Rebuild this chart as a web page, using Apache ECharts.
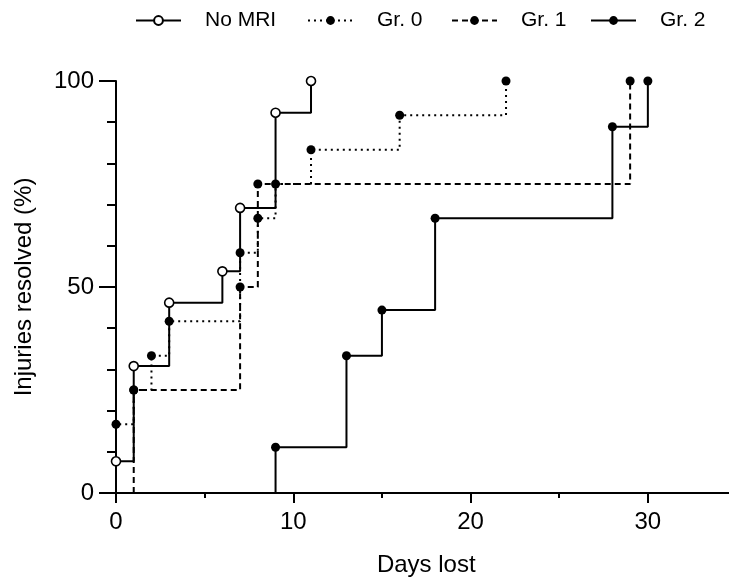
<!DOCTYPE html>
<html>
<head>
<meta charset="utf-8">
<script src="https://cdn.jsdelivr.net/npm/echarts@6/dist/echarts.min.js"></script>
<style>
  html, body { margin: 0; padding: 0; background: #fff; }
  #main { width: 729px; height: 582px; }
</style>
</head>
<body>
<div id="main"></div>
<script>
// cumulative % of injuries resolved, by days lost
var seriesNames = ["No MRI", "Gr. 0", "Gr. 1", "Gr. 2"];

var noMriDays = [0, 0, 1, 3, 6, 7, 9, 11];
var noMriPct  = [0, 7.7, 30.8, 46.2, 53.8, 69.2, 92.3, 100];

var gr0Days = [0, 0, 1, 2, 3, 7, 8, 9, 11, 16, 22];
var gr0Pct  = [0, 16.7, 25, 33.3, 41.7, 58.3, 66.7, 75, 83.3, 91.7, 100];

var gr1Days = [1, 1, 7, 8, 29];
var gr1Pct  = [0, 25, 50, 75, 100];

var gr2Days = [9, 9, 13, 15, 18, 28, 30];
var gr2Pct  = [0, 11.1, 33.3, 44.4, 66.7, 88.9, 100];

var xTicks = [0, 10, 20, 30];
var yTicks = [0, 50, 100];

// first point is the base of the curve, no marker there
function pts(days, pct) {
  return days.map(function (d, i) {
    var item = { value: [d, pct[i]] };
    if (i === 0) item.symbol = "none";
    return item;
  });
}

var chart = echarts.init(document.getElementById("main"));
var font = "Liberation Sans, Arial, sans-serif";
var black = "#000";

function stepSeries(name, data, lineType, hollow) {
  return {
    name: name,
    type: "line",
    step: "end",
    data: data,
    clip: false,
    symbol: "circle",
    symbolSize: 9,
    lineStyle: { color: black, width: 2, type: lineType },
    itemStyle: hollow
      ? { color: "#fff", borderColor: black, borderWidth: 1.6 }
      : { color: black, borderColor: black, borderWidth: 0 },
    emphasis: { disabled: true },
    animation: false
  };
}

function legendAt(name, left) {
  return {
    data: [name],
    left: left,
    top: 10,
    padding: 0,
    itemWidth: 45,
    itemHeight: 11,
    textStyle: { fontFamily: font, fontSize: 21, color: black, padding: [0, 0, 0, 19] },
    selectedMode: false
  };
}

var option = {
  backgroundColor: "#fff",
  animation: false,
  legend: [
    legendAt(seriesNames[0], 135),
    legendAt(seriesNames[1], 307),
    legendAt(seriesNames[2], 451),
    legendAt(seriesNames[3], 590)
  ],
  // 35 days sits just past the right edge of the picture
  grid: { left: 116, top: 81, width: 620.5, bottom: 89, outerBoundsMode: "none" },
  xAxis: [
    {
      type: "value",
      min: 0,
      max: 35,
      interval: 10,
      position: "bottom",
      name: "Days lost",
      nameLocation: "middle",
      nameGap: 60,
      nameTextStyle: { fontFamily: font, fontSize: 24, color: black },
      axisLine: { onZero: false, lineStyle: { color: black, width: 2 } },
      axisTick: { show: true, length: 10, lineStyle: { color: black, width: 2 } },
      axisLabel: {
        margin: 17,
        fontFamily: font,
        fontSize: 24,
        color: black,
        formatter: function (v) { return xTicks.indexOf(v) >= 0 ? String(v) : ""; }
      },
      splitLine: { show: false }
    },
    {
      // minor ticks every 5 days
      type: "value",
      min: 0,
      max: 35,
      interval: 5,
      position: "bottom",
      offset: 0,
      axisLine: { show: false },
      axisTick: { show: true, length: 5, lineStyle: { color: black, width: 2 } },
      axisLabel: { show: false },
      splitLine: { show: false }
    }
  ],
  yAxis: {
    type: "value",
    min: 0,
    max: 100,
    interval: 50,
    name: "Injuries resolved (%)",
    nameLocation: "middle",
    nameGap: 80,
    nameTextStyle: { fontFamily: font, fontSize: 24, color: black },
    axisLine: { show: true, lineStyle: { color: black, width: 2 } },
    axisTick: { show: true, length: 17, lineStyle: { color: black, width: 2 } },
    minorTick: { show: true, splitNumber: 5, length: 9, lineStyle: { color: black, width: 2 } },
    axisLabel: {
      margin: 22,
      fontFamily: font,
      fontSize: 24,
      color: black,
      formatter: function (v) { return yTicks.indexOf(v) >= 0 ? String(v) : ""; }
    },
    splitLine: { show: false }
  },
  series: [
    stepSeries(seriesNames[3], pts(gr2Days, gr2Pct), "solid", false),
    stepSeries(seriesNames[2], pts(gr1Days, gr1Pct), [6, 4], false),
    stepSeries(seriesNames[1], pts(gr0Days, gr0Pct), [2, 4], false),
    stepSeries(seriesNames[0], pts(noMriDays, noMriPct), "solid", true)
  ]
};

chart.setOption(option);
</script>
</body>
</html>
